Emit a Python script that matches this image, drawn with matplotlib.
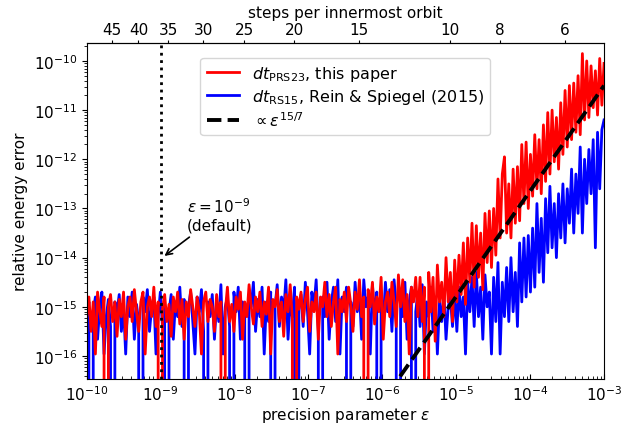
import numpy as np
import matplotlib
matplotlib.use("Agg")
import matplotlib.pyplot as plt
from matplotlib.ticker import NullLocator

# log10 of the relative energy error, one value per epsilon; None = exactly zero
red_log = [
    -15.2, -14.8, -15.5, -14.9, -15.96, -14.7, -15.1, -15.4, -14.8, None,
    -15.0, -14.75, -15.3, -14.9, -15.6, -14.85, -15.2, -14.7, -15.66, -15.0,
    -14.8, -15.3, -14.65, -15.1, -15.5, -14.9, -14.7, -15.96, -15.0, -14.8,
    -15.2, -14.6, -15.4, -14.9, None, -15.05, -14.75, -15.3, -14.95, -15.6,
    -14.8, -15.1, -14.7, -15.35, -14.85, -15.66, -14.9, -15.2, -14.65, -15.0,
    -15.4, -14.8, -15.1, -15.96, -14.9, -14.7, -15.3, -14.85, -15.0, -15.5,
    -14.75, -15.2, -14.9, None, -15.1, -14.6, -15.3, -14.95, -15.5, -14.8,
    -15.05, -14.7, -15.66, -14.9, -15.2, -14.55, -15.0, -15.35, -14.8, -15.1,
    -14.7, -15.4, -14.9, -15.15, -14.6, -15.96, -14.85, -15.0, -14.65, -15.3,
    -14.9, -15.6, -14.75, -15.1, -14.55, -15.25, None, -14.8, -15.05, -14.7,
    -15.3, -14.85, -14.6, -15.5, -14.9, -15.1, -14.7, -15.66, -14.8, -15.0,
    -14.5, -15.2, -14.75, -15.4, -14.9, -14.6, -15.96, -14.85, -15.1, -14.7,
    -15.3, -14.6, -14.95, -15.5, -14.7, -15.05, -14.45, -15.2, -14.8, None,
    -14.65, -15.0, -14.5, -15.35, -14.8, -15.1, -14.4, -15.66, -14.9, -14.7,
    -15.2, -14.5, -14.9, -15.4, -14.35, -15.0, -14.45, -15.3, -14.75, -15.96,
    -14.6, -14.9, -14.4, -15.2,
    # onset of the truncation error
    -14.4, -15.3, -14.6, None, -14.3, -15.1, -14.4, -15.7, -14.15, -14.9,
    -14.5, -15.2, -14.0, -14.9, -14.3, -15.3, -14.05, -14.9, -13.95, -14.75,
    -13.7, -14.95, -13.6, -14.5, -13.3, -14.6, -13.35, -14.4, -13.5, -14.65,
    -13.1, -14.1, -13.05, -14.2, -13.0, -13.95, -12.4, -13.6, -12.3, -11.95,
    -13.5, -12.5, -13.6, -12.2, -13.3, -12.15, -13.25, -11.7, -12.9, -11.65,
    -13.0, -11.9, -12.75, -11.5, -12.6, -11.6, -12.7, -11.3, -12.45, -11.05,
    -12.3, -11.0, -12.05, -11.15, -12.2, -10.85, -11.9, -10.6, -11.75, -10.5,
    -11.6, -10.45, -11.45, -10.3, -11.5, -9.85, -11.2, -10.0, -11.15, -10.1,
    -10.95, -10.2, -11.1, -9.95, -10.9, -10.05,
]

blue_log = [
    -15.3, -14.9, None, -15.1, -14.8, -15.66, -15.0, -14.7, -15.96, -15.2,
    -14.85, -15.4, None, -14.9, -15.1, -14.75, -15.5, -15.0, -15.96, -14.8,
    -15.2, -14.7, -15.66, -14.95, -15.3, None, -14.8, -15.1, -14.65, -15.5,
    -15.0, -14.8, -15.96, -15.2, -14.7, -15.4, -14.9, None, -15.1, -14.75,
    -15.66, -14.9, -15.2, -14.6, -15.4, -14.85, None, -15.0, -14.7, -15.3,
    -15.96, -14.8, -15.1, -14.65, -15.5, None, -14.9, -15.2, -14.75, -15.66,
    -14.9, -15.3, -14.55, -15.96, -15.0, -14.8, -15.4, None, -14.7, -15.1,
    -14.6, -15.66, -14.9, -15.2, None, -14.75, -15.0, -14.5, -15.5, -14.85,
    -15.2, -14.6, -15.96, -14.9, -15.3, -14.7, None, -15.0, -14.55, -15.4,
    -14.8, -15.1, -14.45, -15.66, -14.9, -15.2, -14.6, None, -15.0, -14.75,
    -15.4, -14.5, -15.1, -15.96, -14.7, -15.0, -14.45, -15.5, None, -14.8,
    -15.2, -14.5, -15.66, -14.9, -14.6, -15.3, -14.45, -15.96, -14.8, -15.1,
    -14.6, None, -14.9, -15.4, -14.5, -15.1, -14.7, -15.66, -14.45, -15.0,
    -14.8, -15.96, -14.55, -15.2, -14.7, None, -14.9, -15.3, -14.5, -15.1,
    -14.65, -15.5, -14.45, -15.0, None, -14.8, -15.2, -14.5, -15.66, -14.9,
    -14.6, None, -15.1, -14.7, -15.4, -14.55, -15.96, -14.9, -15.2, -14.6,
    -15.5, -14.8, -15.96, -14.9, -15.3, -14.7, -15.66, -15.0, -14.8, -15.4,
    -14.7, -15.5, -14.6, -15.2, -14.8, -15.96, -14.5, -15.1, -14.4, -15.4,
    -14.3, -15.2, -14.6, -15.66, -14.35, -15.0, -14.7, -15.96, -14.4, -15.3,
    -14.1, -15.96, -14.5, -15.2, -14.2, -15.3, -14.0, -15.1, -14.3, -15.4,
    -13.7, -14.9, -13.6, -14.8, -13.55, -14.7, -13.4, -14.6, -12.9, -14.3,
    -13.2, -14.5, -12.8, -13.9, -12.55, -13.8, -12.9, -14.0, -12.7, -13.6,
    -12.5, -13.7, -12.6, -13.3, -12.2, -13.5, -12.3, -13.1, -11.75, -13.5,
    -12.0, -12.9, -11.8, -12.7, -11.6, -13.8, -11.45, -12.6, -11.4, -11.2,
]

eps = np.logspace(-10, -3, len(red_log))
err_prs23 = np.array([0.0 if v is None else 10.0**v for v in red_log])
err_rs15 = np.array([0.0 if v is None else 10.0**v for v in blue_log])

# power law reference, normalised at eps = 1e-3
slope_amp = 3.15e-11
eps_fit = np.logspace(-7, -3, 50)

# steps per innermost orbit scale as eps^(-1/7)
steps_norm = 1.877
steps_ticks = [45, 40, 35, 30, 25, 20, 15, 10, 8, 6]


def eps2steps(e):
    e = np.asarray(e, dtype=float)
    return steps_norm * np.clip(e, 1e-300, None) ** (-1.0 / 7.0)


def steps2eps(n):
    n = np.asarray(n, dtype=float)
    return (np.clip(n, 1e-300, None) / steps_norm) ** (-7.0)


plt.rcParams['font.size'] = 11

fig = plt.figure(figsize=(6.24, 4.27), dpi=100)
ax = fig.add_axes([0.139, 0.110, 0.829, 0.787])

l_rs, = ax.plot(eps, err_rs15, color='blue', lw=2.0)
l_prs, = ax.plot(eps, err_prs23, color='red', lw=2.0)
l_fit, = ax.plot(eps_fit, slope_amp * (eps_fit / 1e-3) ** (15.0 / 7.0),
                 color='black', ls='--', lw=2.8)
ax.axvline(1e-9, color='black', ls=':', lw=2)

ax.set_xscale('log')
ax.set_yscale('log')
ax.set_xlim(1e-10, 1e-3)
ax.set_ylim(3.4e-17, 2.32e-10)
ax.tick_params(axis='x', which='both', direction='in')
ax.set_xlabel(r'precision parameter $\varepsilon$', labelpad=2)
ax.set_ylabel('relative energy error')

ax.annotate('$\\varepsilon = 10^{-9}$\n(default)', xy=(1.05e-9, 1e-14),
            xytext=(6.2e-9, 7.5e-14), ha='center', va='center',
            arrowprops=dict(arrowstyle='->', color='black', lw=1.2))

ax.legend([l_prs, l_rs, l_fit],
          [r'$dt_\mathrm{PRS23}$, this paper',
           r'$dt_\mathrm{RS15}$, Rein & Spiegel (2015)',
           r'$\propto \varepsilon^{15/7}$'],
          loc='upper center', bbox_to_anchor=(0.5, 0.98),
          fontsize=11.5, labelspacing=0.25)

top = ax.secondary_xaxis('top', functions=(eps2steps, steps2eps))
top.set_xticks(steps_ticks, labels=[str(s) for s in steps_ticks])
top.xaxis.set_minor_locator(NullLocator())
top.tick_params(axis='x', length=2.5, pad=1.5)
top.set_xlabel('steps per innermost orbit', labelpad=4)

fig.savefig('out.png', dpi=100)
